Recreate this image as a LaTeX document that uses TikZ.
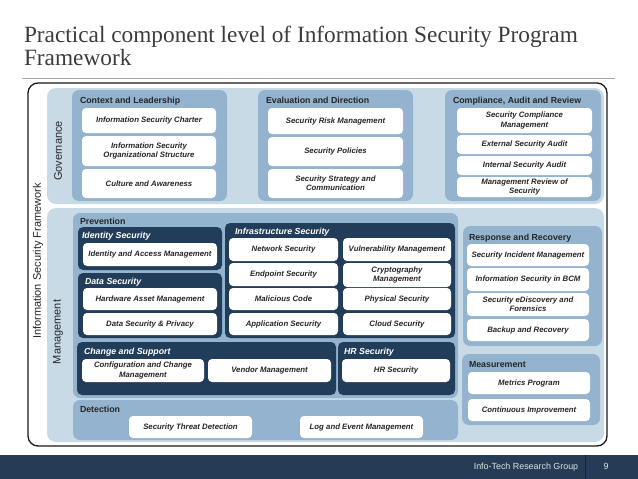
\documentclass[tikz,border=0pt]{standalone}
\usepackage{fontspec}
\setmainfont{Liberation Sans}
\newfontfamily\titlefont{Liberation Serif}
\definecolor{cLight}{HTML}{C9DAE7}
\definecolor{cMed}{HTML}{93B3CE}
\definecolor{cDark}{HTML}{223D5A}
\definecolor{cFoot}{HTML}{243C55}
\definecolor{cText}{HTML}{262626}
\definecolor{cTitle}{HTML}{3C3C3C}
\newcommand\bx[7][]{\node[#1, minimum width={(#5-#3)*1pt}, minimum height={(#6-#4)*1pt}] (#2) at ({(#3+#5)/2},{(#4+#6)/2}) {#7};}
\begin{document}
\begin{tikzpicture}[x=1pt,y=-1pt,
  every node/.style={inner sep=0pt, outer sep=0pt},
  lightpanel/.style={fill=cLight, rounded corners=9pt},
  medpanel/.style={fill=cMed, rounded corners=7pt},
  darkpanel/.style={fill=cDark, rounded corners=5pt},
  wbox/.style={fill=white, rounded corners=4pt, align=center, text=cText,
    font=\fontsize{7.8}{9.4}\selectfont\bfseries\itshape},
  medlbl/.style={anchor=base west, text=cText, font=\fontsize{8.8}{10}\selectfont\bfseries},
  darklbl/.style={anchor=base west, text=white, font=\fontsize{8.8}{10}\selectfont\bfseries\itshape},
  vlbl/.style={rotate=90, text=cText, font=\fontsize{11}{12}\selectfont},
]
\useasboundingbox (0,0) rectangle (638,479);
% title
\node[anchor=base west, align=left, text=cTitle, font=\titlefont\fontsize{23.3}{20.5}\selectfont] (t1) at (24,65) {Practical component level of Information Security Program\\Framework};
\coordinate (r1) at (22,78);
\coordinate (r2) at (615,78);
\draw[color=black!35, line width=1pt] (r1) -- (r2);
% frame
\bx[draw=black!90, line width=1.3pt, rounded corners=10pt]{frame}{28}{83}{607}{446}{}
\bx[lightpanel]{gov}{47}{88}{604}{204}{}
\bx[lightpanel]{mgmt}{47}{208}{604}{442}{}
\node[vlbl] (isf) at (38,261) {Information Security Framework};
\node[vlbl] (govl) at (58,151) {Governance};
\node[vlbl] (mgl) at (58,332) {Management};
% governance groups
\bx[medpanel]{ctx}{72}{90}{227}{201}{}
\node[medlbl] (ctxl) at (80,103) {Context and Leadership};
\bx[wbox]{c1}{82}{108}{216}{133}{Information Security Charter}
\bx[wbox]{c2}{82}{136}{216}{166}{Information Security\\Organizational Structure}
\bx[wbox]{c3}{82}{169}{216}{198}{Culture and Awareness}
\bx[medpanel]{eva}{258}{90}{413}{201}{}
\node[medlbl] (eval) at (266,103) {Evaluation and Direction};
\bx[wbox]{e1}{268}{108}{403}{134}{Security Risk Management}
\bx[wbox]{e2}{268}{137}{403}{166}{Security Policies}
\bx[wbox]{e3}{268}{169}{403}{198}{Security Strategy and\\Communication}
\bx[medpanel]{cmp}{445}{90}{601}{201}{}
\node[medlbl] (cmpl) at (453,103) {Compliance, Audit and Review};
\bx[wbox]{a1}{457}{108}{592}{133}{Security Compliance\\Management}
\bx[wbox]{a2}{457}{135}{592}{154}{External Security Audit}
\bx[wbox]{a3}{457}{156}{592}{175}{Internal Security Audit}
\bx[wbox]{a4}{457}{177}{592}{197}{Management Review of\\Security}
% prevention
\bx[medpanel]{prev}{73}{213}{458}{398}{}
\node[medlbl] (prevl) at (80,224) {Prevention};
\bx[darkpanel]{ids}{78}{227}{222}{270}{}
\node[darklbl] (idsl) at (82,238) {Identity Security};
\bx[wbox]{i1}{83}{243}{217}{266}{Identity and Access Management}
\bx[darkpanel]{dat}{78}{273}{222}{338}{}
\node[darklbl] (datl) at (85,284) {Data Security};
\bx[wbox]{d1}{83}{288}{217}{310}{Hardware Asset Management}
\bx[wbox]{d2}{83}{313}{217}{335}{Data Security \& Privacy}
\bx[darkpanel]{inf}{225}{223}{455}{338}{}
\node[darklbl] (infl) at (235,234) {Infrastructure Security};
\bx[wbox]{n1}{229}{238}{338}{261}{Network Security}
\bx[wbox]{n2}{229}{263}{338}{286}{Endpoint Security}
\bx[wbox]{n3}{229}{288}{338}{310}{Malicious Code}
\bx[wbox]{n4}{229}{313}{338}{335}{Application Security}
\bx[wbox]{m1}{343}{238}{451}{261}{Vulnerability Management}
\bx[wbox]{m2}{343}{263}{451}{287}{Cryptography\\Management}
\bx[wbox]{m3}{343}{288}{451}{310}{Physical Security}
\bx[wbox]{m4}{343}{313}{451}{335}{Cloud Security}
\bx[darkpanel]{chg}{77}{342}{336}{395}{}
\node[darklbl] (chgl) at (84,354) {Change and Support};
\bx[wbox]{g1}{82}{359}{204}{382}{Configuration and Change\\Management}
\bx[wbox]{g2}{208}{359}{331}{382}{Vendor Management}
\bx[darkpanel]{hrs}{338}{342}{455}{395}{}
\node[darklbl] (hrsl) at (344,354) {HR Security};
\bx[wbox]{h1}{342}{359}{450}{382}{HR Security}
% detection
\bx[medpanel]{det}{73}{400}{458}{440}{}
\node[medlbl] (detl) at (80,412) {Detection};
\bx[wbox]{t1b}{129}{416}{252}{438}{Security Threat Detection}
\bx[wbox]{t2b}{300}{416}{423}{438}{Log and Event Management}
% response
\bx[medpanel]{rsp}{463}{226}{602}{346}{}
\node[medlbl] (rspl) at (469,240) {Response and Recovery};
\bx[wbox]{r1b}{467}{244}{589}{266}{Security Incident Management}
\bx[wbox]{r2b}{467}{268}{589}{291}{Information Security in BCM}
\bx[wbox]{r3b}{467}{293}{589}{316}{Security eDiscovery and\\Forensics}
\bx[wbox]{r4b}{467}{319}{589}{341}{Backup and Recovery}
% measurement
\bx[medpanel]{mea}{462}{354}{600}{425}{}
\node[medlbl] (meal) at (469,367) {Measurement};
\bx[wbox]{s1}{468}{372}{590}{394}{Metrics Program}
\bx[wbox]{s2}{468}{399}{590}{421}{Continuous Improvement}
% footer
\bx[fill=cFoot]{foot}{0}{455}{638}{479}{}
\coordinate (dv1) at (585,455);
\coordinate (dv2) at (585,479);
\draw[color=black!40!cFoot, line width=0.8pt] (dv1) -- (dv2);
\node[anchor=base, text=white!85!cFoot, font=\fontsize{8.9}{10}\selectfont] (ft) at (526,469) {Info-Tech Research Group};
\node[anchor=base, text=white!85!cFoot, font=\fontsize{8.9}{10}\selectfont] (pg) at (606,469) {9};
\end{tikzpicture}
\end{document}
